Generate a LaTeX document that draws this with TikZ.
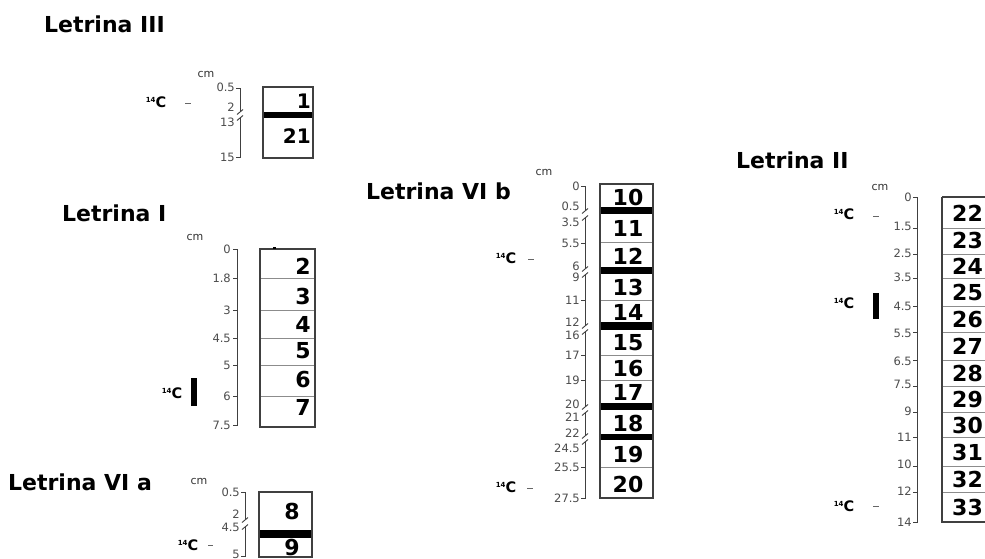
\documentclass[tikz,border=0pt]{standalone}
\usepackage{fontspec}
\setmainfont{DejaVu Sans}
\begin{document}
\begin{tikzpicture}[x=1pt,y=-1pt,
  title/.style={font=\bfseries\fontsize{22}{24}\selectfont, inner sep=0pt, anchor=base west},
  num/.style={font=\bfseries\fontsize{22}{24}\selectfont, inner sep=0pt},
  tick/.style={font=\fontsize{11.5}{13}\selectfont, text=black!70, inner sep=0pt, anchor=east},
  cmlab/.style={font=\fontsize{11}{12}\selectfont, text=black!80, inner sep=0pt},
  axisline/.style={draw=black!75, line width=0.9pt},
  boxline/.style={draw=black!75, line width=1.3pt},
  rowline/.style={draw=black!45, line width=1pt},
  gapbar/.style={fill=black, draw=none},
  carbon/.style={font=\bfseries\fontsize{14.5}{15}\selectfont, inner sep=0pt},
  dashmark/.style={draw=black!60, line width=0.8pt},
]
\useasboundingbox (0,0) rectangle (985,559);
\fill[white] (0,0) rectangle (985,559);
\newcommand\Cfourteen{{\fontsize{7}{7}\selectfont\raisebox{4.5pt}{14}}C}
\newcommand\brk[2]{\draw[axisline] ({#1-3},{#2+2.5}) -- ({#1+3},{#2-2.5});}

% ---------------- Letrina III ----------------
\node[title] (tIII) at (44,33) {Letrina III};
\node[cmlab] (cmIII) at (206,74) {cm};
\draw[axisline] (236,88) -- (240,88) -- (240,112);
\draw[axisline] (240,118) -- (240,157) -- (236,157);
\brk{240}{112}\brk{240}{118}
\foreach \y/\l [count=\i] in {87/0.5,107/2,122/13,157/15}
  {\node[tick] (IIIt\i) at (235,\y) {\l};}
\fill[gapbar] (263,112) rectangle (313,118);
\draw[boxline] (263,87) rectangle (313,158);
\node[num, anchor=east, font=\bfseries\fontsize{20}{22}\selectfont] (n1) at (311,101) {1};
\node[num, anchor=east, font=\bfseries\fontsize{20}{22}\selectfont] (n21) at (311,136) {21};
\node[carbon] (cIII) at (156,102) {\Cfourteen};
\draw[dashmark] (185,103) -- (191,103);

% ---------------- Letrina I ----------------
\node[title] (tI) at (62,221) {Letrina I};
\node[cmlab] (cmI) at (195,237) {cm};
\draw[axisline] (233,249) -- (237,249) -- (237,425) -- (233,425);
\foreach \y in {278,310,338,365,396} {\draw[axisline] (233,\y) -- (237,\y);}
\foreach \y/\l [count=\i] in {249/0,278/1.8,310/3,338/4.5,365/5,396/6,425/7.5}
  {\node[tick] (It\i) at (231,\y) {\l};}
\foreach \y in {278,310,338,365,396} {\draw[rowline] (260,\y) -- (315,\y);}
\draw[boxline] (260,249) rectangle (315,427);
\draw[black, line width=1.2pt] (273,248) -- (276,248);
\foreach \y/\l in {266/2,296/3,324/4,351/5,379/6,407/7}
  {\node[num, anchor=east] (n\l) at (311,\y) {\l};}
\node[carbon] (cI) at (172,393) {\Cfourteen};
\fill[black] (191,378) rectangle (197,406);

% ---------------- Letrina VI a ----------------
\node[title] (tVIa) at (8,490) {Letrina VI a};
\node[cmlab] (cmVIa) at (199,481) {cm};
\draw[axisline] (241,492) -- (245,492) -- (245,520);
\draw[axisline] (245,527) -- (245,556) -- (241,556);
\brk{245}{520}\brk{245}{527}
\foreach \y/\l [count=\i] in {492/0.5,514/2,527/4.5,554/5}
  {\node[tick] (VIat\i) at (240,\y) {\l};}
\fill[gapbar] (259,530) rectangle (312,538);
\draw[boxline] (259,492) rectangle (312,557);
\node[num] (n8) at (292,511.5) {8};
\node[num] (n9) at (292,547) {9};
\node[carbon] (cVIa) at (188,545) {\Cfourteen};
\draw[dashmark] (208,545) -- (213,545);

% ---------------- Letrina VI b ----------------
\node[title] (tVIb) at (366,199) {Letrina VI b};
\node[cmlab] (cmVIb) at (544,172) {cm};
\draw[axisline] (581,186) -- (585,186) -- (585,211);
\draw[axisline] (585,218) -- (585,269);
\draw[axisline] (585,275) -- (585,326);
\draw[axisline] (585,332) -- (585,407);
\draw[axisline] (585,413) -- (585,436);
\draw[axisline] (585,442) -- (585,498) -- (581,498);
\foreach \y in {243,300,355,380,467} {\draw[axisline] (581,\y) -- (585,\y);}
\foreach \y in {211,218,269,275,326,332,407,413,436,442} {\brk{585}{\y}}
\foreach \y/\l [count=\i] in {186/0,206/0.5,222/3.5,243/5.5,266/6,277/9,300/11,322/12,335/16,355/17,380/19,404/20,417/21,433/22,448/24.5,467/25.5,498/27.5}
  {\node[tick] (VIbt\i) at (580,\y) {\l};}
\foreach \y in {242,300,355,380,467} {\draw[rowline] (600,\y) -- (653,\y);}
\foreach \a/\b in {207/214,267/274,322/330,403/410,434/440}
  {\fill[gapbar] (600,\a) rectangle (653,\b);}
\draw[boxline] (600,184) rectangle (653,498);
\foreach \y/\l in {197/10,228/11,256/12,287/13,312/14,343/15,368/16,392/17,423/18,454/19,484/20}
  {\node[num] (n\l) at (628,\y) {\l};}
\node[carbon] (cVIb1) at (506,258) {\Cfourteen};
\draw[dashmark] (528,259) -- (534,259);
\node[carbon] (cVIb2) at (506,487) {\Cfourteen};
\draw[dashmark] (527,488) -- (533,488);

% ---------------- Letrina II ----------------
\node[title] (tII) at (736,168) {Letrina II};
\node[cmlab] (cmII) at (880,187) {cm};
\draw[axisline] (913,197) -- (917,197) -- (917,522) -- (913,522);
\foreach \y in {228,254,278,306,332,360,386,412,437,466,492} {\draw[axisline] (913,\y) -- (917,\y);}
\foreach \y/\l [count=\i] in {197/0,226/1.5,253/2.5,277/3.5,306/4.5,333/5.5,361/6.5,384/7.5,411/9,437/11,464/10,491/12,522/14}
  {\node[tick] (IIt\i) at (912,\y) {\l};}
\foreach \y in {228,254,278,306,332,360,386,412,437,466,492} {\draw[rowline] (942,\y) -- (1000,\y);}
\draw[boxline] (942,197) -- (1000,197);
\draw[boxline] (942,197) -- (942,522) -- (1000,522);
\foreach \y/\l in {213/22,240/23,266/24,292/25,319/26,346/27,373/28,399/29,425/30,452/31,479/32,507/33}
  {\node[num] (n\l) at (967.5,\y) {\l};}
\node[carbon] (cII1) at (844,214) {\Cfourteen};
\draw[dashmark] (873,216) -- (879,216);
\node[carbon] (cII2) at (844,303) {\Cfourteen};
\fill[black] (873,293) rectangle (879,319);
\node[carbon] (cII3) at (844,506) {\Cfourteen};
\draw[dashmark] (873,506) -- (879,506);
\end{tikzpicture}
\end{document}
